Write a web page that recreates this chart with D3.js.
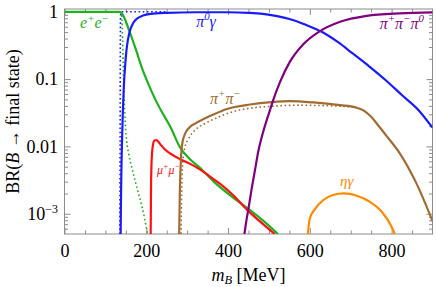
<!DOCTYPE html>
<html>
<head>
<meta charset="utf-8">
<script src="https://cdn.jsdelivr.net/npm/d3@7"></script>
<style>
  body { margin: 0; background: #fff; }
  svg text { font-family: "Liberation Serif", "Times New Roman", Times, serif !important; }
</style>
</head>
<body>
<script>
const width = 436;
const height = 287;
const plotLeft = 64.5, plotRight = 432.5, plotTop = 9, plotBottom = 234;

// [m_B (MeV), BR]
const eeSolid = [[0, 1], [125, 1], [134, 0.995], [140, 0.95], [146, 0.82], [152, 0.67], [158, 0.53], [166, 0.39], [176, 0.26], [188, 0.155], [205, 0.085], [222, 0.05], [240, 0.031], [260, 0.019], [282, 0.0098], [305, 0.0066], [330, 0.0049], [365, 0.003], [410, 0.00178], [450, 0.00118], [490, 0.00075], [522, 0.0005]];
const eeDotted = [[125, 1], [137, 0.99], [140, 0.85], [142, 0.4], [144, 0.13], [146, 0.05], [148.5, 0.022], [152, 0.012], [157, 0.0078], [164, 0.005], [172, 0.0032], [181, 0.002], [190, 0.00125], [203, 0.0005]];
const mumu = [[210.8, 0.0005], [211.5, 0.002], [213, 0.006], [216, 0.0102], [220, 0.0122], [225, 0.0124], [233, 0.011], [245, 0.0091], [262, 0.0076], [282, 0.0065], [305, 0.0056], [330, 0.0046], [355, 0.0036], [380, 0.0028], [412, 0.0019], [446, 0.00115], [480, 0.00075], [514, 0.0005]];
const pi0gSolid = [[137.3, 0.0005], [138.3, 0.002], [139.3, 0.005], [140.5, 0.011], [142.5, 0.03], [145, 0.075], [148, 0.15], [151, 0.25], [155, 0.38], [160, 0.52], [168, 0.68], [177, 0.79], [192, 0.88], [210, 0.93], [250, 0.965], [320, 0.985], [400, 0.985], [450, 0.965], [485, 0.93], [520, 0.86], [550, 0.78], [590, 0.64], [630, 0.5], [670, 0.35], [703, 0.245], [745, 0.155], [785, 0.097], [825, 0.058], [867, 0.034], [900, 0.019]];
const pi0gDotted = [[135.5, 0.0005], [136, 0.01], [136.5, 0.3], [137.2, 0.9], [139.5, 1], [250, 1]];
const pipiSolid = [[280.5, 0.0005], [282, 0.002], [284.5, 0.006], [288, 0.011], [295, 0.0155], [305, 0.019], [320, 0.022], [340, 0.0255], [360, 0.029], [397, 0.036], [454, 0.042], [507, 0.0455], [551, 0.047], [609, 0.045], [674, 0.041], [712, 0.038], [732, 0.034], [750, 0.0275], [766, 0.021], [785, 0.015], [820, 0.0079], [861, 0.0028], [900, 0.00078]];
const pipiDotted = [[285, 0.0005], [286.5, 0.002], [289.5, 0.006], [294, 0.0095], [302, 0.0125], [318, 0.0172], [344, 0.022], [372, 0.0265], [413, 0.033], [454, 0.037], [494, 0.039], [540, 0.0405], [576, 0.041], [620, 0.0405], [657, 0.04], [700, 0.0385], [715, 0.0375], [735, 0.0335]];
const pipipi0 = [[440, 0.0005], [445, 0.0008], [450, 0.0012], [458, 0.0024], [466, 0.0045], [474, 0.0085], [482, 0.0135], [490, 0.02], [500, 0.031], [510, 0.048], [527, 0.09], [551, 0.18], [584, 0.33], [621, 0.5], [674, 0.71], [739, 0.87], [820, 0.95], [900, 0.98]];
const etag = [[595, 0.0005], [600, 0.00085], [613, 0.00118], [633, 0.0016], [657, 0.0019], [682, 0.002], [715, 0.00185], [747, 0.0015], [776, 0.00107], [800, 0.00064], [808, 0.0005]];

const xTicks = [0, 200, 400, 600, 800];
const xMinor = d3.range(50, 900, 50).filter((v) => v % 200 !== 0);
const yTicks = [1, 0.1, 0.01, 0.001];

const serif = '"Liberation Serif", "Times New Roman", Times, serif';

var svg = d3.select("body").append("svg").attr("width", width).attr("height", height);

let xScale = d3.scaleLinear().domain([0, 900]).range([plotLeft, plotRight]);
let yScale = d3.scaleLog().domain([0.0005, 1.1]).range([plotBottom, plotTop]);

let yMinor = [];
for (let d = -4; d <= 0; d++) {
  for (let k = 2; k <= 9; k++) {
    let v = k * Math.pow(10, d);
    if (v > 0.0005 && v < 1.1) yMinor.push(v);
  }
}

const gray = "#8c8c8c";

function styleAxis(g) {
  g.attr("font-family", serif);
  g.select(".domain").remove();
  g.selectAll(".tick line").attr("stroke", gray);
  g.selectAll(".tick text").attr("font-size", 18).attr("fill", "#000")
    .style("font-family", serif);
}

// frame ticks
svg.append("g").attr("transform", "translate(0," + plotBottom + ")")
  .call(d3.axisBottom(xScale).tickValues(xTicks).tickSize(-6).tickPadding(10).tickFormat(d3.format("d")))
  .call(styleAxis);
svg.append("g").attr("transform", "translate(0," + plotBottom + ")")
  .call(d3.axisBottom(xScale).tickValues(xMinor).tickSize(-3.5).tickFormat(""))
  .call(styleAxis);
svg.append("g").attr("transform", "translate(0," + plotTop + ")")
  .call(d3.axisTop(xScale).tickValues(xTicks).tickSize(-6).tickFormat(""))
  .call(styleAxis);
svg.append("g").attr("transform", "translate(0," + plotTop + ")")
  .call(d3.axisTop(xScale).tickValues(xMinor).tickSize(-3.5).tickFormat(""))
  .call(styleAxis);

let yl = svg.append("g").attr("transform", "translate(" + plotLeft + ",0)")
  .call(d3.axisLeft(yScale).tickValues(yTicks).tickSize(-6).tickPadding(6.5)
    .tickFormat((d) => (d === 1 ? "1" : d === 0.1 ? "0.1" : d === 0.01 ? "0.01" : "")))
  .call(styleAxis);
let t3 = yl.selectAll(".tick text").filter((d) => d === 0.001);
t3.append("tspan").text("10");
t3.append("tspan").text("−3").attr("font-size", 12).attr("dy", "-0.62em");

svg.append("g").attr("transform", "translate(" + plotLeft + ",0)")
  .call(d3.axisLeft(yScale).tickValues(yMinor).tickSize(-3.5).tickFormat(""))
  .call(styleAxis);
svg.append("g").attr("transform", "translate(" + plotRight + ",0)")
  .call(d3.axisRight(yScale).tickValues(yTicks).tickSize(-6).tickFormat(""))
  .call(styleAxis);
svg.append("g").attr("transform", "translate(" + plotRight + ",0)")
  .call(d3.axisRight(yScale).tickValues(yMinor).tickSize(-3.5).tickFormat(""))
  .call(styleAxis);

svg.append("rect")
  .attr("x", plotLeft).attr("y", plotTop)
  .attr("width", plotRight - plotLeft).attr("height", plotBottom - plotTop)
  .attr("fill", "none").attr("stroke", gray).attr("stroke-width", 1);

svg.append("clipPath").attr("id", "clip")
  .append("rect").attr("x", plotLeft).attr("y", plotTop)
  .attr("width", plotRight - plotLeft).attr("height", plotBottom - plotTop);

let line = d3.line()
  .x((d) => xScale(d[0]))
  .y((d) => yScale(d[1]))
  .curve(d3.curveMonotoneX);

let plot = svg.append("g").attr("clip-path", "url(#clip)");

function drawCurve(data, color, dotted) {
  plot.append("path")
    .datum(data)
    .attr("d", line)
    .attr("fill", "none")
    .attr("stroke", color)
    .attr("stroke-width", dotted ? 1.6 : 2.2)
    .attr("stroke-dasharray", dotted ? "1.6,2.6" : null);
}

const green = "#1db31d", blue = "#1a1aff", red = "#ff1010", brown = "#a26b32", purple = "#800080", orange = "#ff8a00";

drawCurve(pi0gDotted, blue, true);
drawCurve(eeDotted, green, true);
drawCurve(pipiDotted, brown, true);
drawCurve(eeSolid, green, false);
drawCurve(mumu, red, false);
drawCurve(pi0gSolid, blue, false);
drawCurve(pipiSolid, brown, false);
drawCurve(pipipi0, purple, false);
drawCurve(etag, orange, false);

// curve labels, anchored at [m_B, BR]
function label(m, br, color, size, parts) {
  let t = svg.append("text")
    .attr("x", xScale(m)).attr("y", yScale(br))
    .attr("fill", color).attr("font-size", size).attr("font-style", "italic")
    .style("font-family", serif);
  parts.forEach((p) => {
    let s = t.append("tspan").text(p[0]);
    if (p[1] === "sup") s.attr("font-size", size * 0.68).attr("dy", -size * 0.42);
    if (p[1] === "base") s.attr("dy", size * 0.42);
  });
}

label(38, 0.57, green, 16, [["e"], ["+", "sup"], ["e", "base"], ["−", "sup"]]);
label(322, 0.6, blue, 16, [["π"], ["0", "sup"], ["γ", "base"]]);
label(771, 0.555, purple, 16, [["π"], ["+", "sup"], ["π", "base"], ["−", "sup"], ["π", "base"], ["0", "sup"]]);
label(356, 0.0425, brown, 16, [["π"], ["+", "sup"], ["π", "base"], ["−", "sup"]]);
label(226, 0.0039, red, 12, [["μ"], ["+", "sup"], ["μ", "base"], ["−", "sup"]]);
label(674, 0.0026, orange, 15, [["ηγ"]]);

// axis titles
let xt = svg.append("text")
  .attr("x", (plotLeft + plotRight) / 2).attr("y", 280.5)
  .attr("text-anchor", "middle").attr("font-size", 18).style("font-family", serif);
xt.append("tspan").text("m").attr("font-style", "italic");
xt.append("tspan").text("B").attr("font-style", "italic").attr("font-size", 12.5).attr("dy", 3);
xt.append("tspan").text(" [MeV]").attr("dy", -3);

let yt = svg.append("text")
  .attr("transform", "translate(19," + (plotTop + plotBottom) / 2 + ") rotate(-90)")
  .attr("text-anchor", "middle").attr("font-size", 18).style("font-family", serif);
yt.append("tspan").text("BR(");
yt.append("tspan").text("B").attr("font-style", "italic");
yt.append("tspan").text(" → final state)");
</script>
</body>
</html>
